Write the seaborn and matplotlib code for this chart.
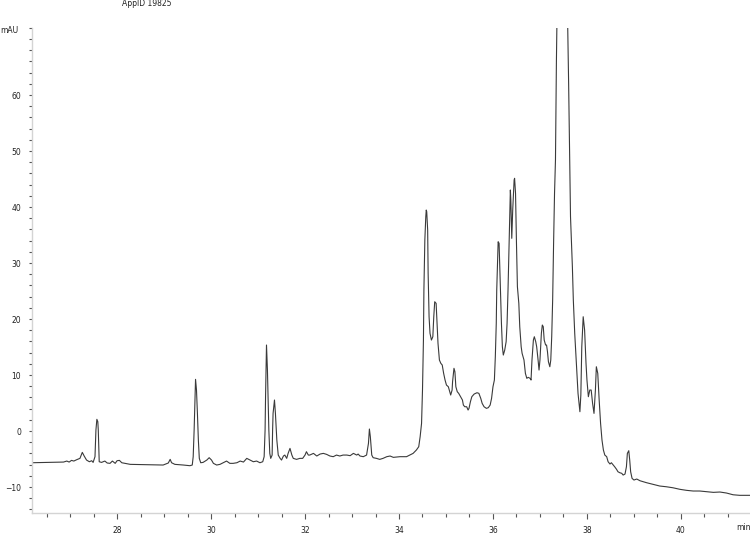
import numpy as np
import pandas as pd
import matplotlib
matplotlib.use("Agg")
import matplotlib.pyplot as plt
import seaborn as sns
from matplotlib.ticker import MultipleLocator

# chromatogram trace (retention time in min, signal in mAU)
time_min = [
    26.19, 26.86, 26.93, 26.98, 27.03, 27.08, 27.14, 27.21, 27.26, 27.30,
    27.35, 27.41, 27.46, 27.49, 27.53, 27.55, 27.57, 27.59, 27.60, 27.62,
    27.67, 27.74, 27.79, 27.85, 27.90, 27.96, 28.00, 28.05, 28.10, 28.17,
    28.28, 28.63, 28.98, 29.09, 29.13, 29.16, 29.23, 29.41, 29.55, 29.60,
    29.62, 29.64, 29.66, 29.67, 29.69, 29.71, 29.73, 29.75, 29.78, 29.83,
    29.91, 29.96, 30.01, 30.05, 30.12, 30.19, 30.26, 30.33, 30.40, 30.47,
    30.55, 30.62, 30.69, 30.76, 30.83, 30.90, 30.97, 31.04, 31.10, 31.13,
    31.15, 31.16, 31.18, 31.20, 31.23, 31.25, 31.27, 31.30, 31.31, 31.32,
    31.35, 31.37, 31.40, 31.43, 31.47, 31.50, 31.54, 31.57, 31.61, 31.64,
    31.68, 31.72, 31.75, 31.82, 31.89, 31.95, 32.00, 32.03, 32.07, 32.10,
    32.18, 32.25, 32.32, 32.39, 32.46, 32.53, 32.60, 32.67, 32.74, 32.81,
    32.89, 32.96, 33.03, 33.10, 33.13, 33.17, 33.24, 33.31, 33.35, 33.37,
    33.39, 33.42, 33.45, 33.52, 33.59, 33.66, 33.74, 33.81, 33.88, 34.02,
    34.16, 34.23, 34.30, 34.37, 34.42, 34.45, 34.48, 34.50, 34.52, 34.53,
    34.55, 34.57, 34.58, 34.59, 34.61, 34.62, 34.64, 34.66, 34.69, 34.72,
    34.74, 34.76, 34.79, 34.81, 34.83, 34.86, 34.89, 34.92, 34.95, 34.98,
    35.01, 35.05, 35.08, 35.10, 35.13, 35.14, 35.17, 35.19, 35.21, 35.24,
    35.27, 35.31, 35.35, 35.37, 35.40, 35.44, 35.47, 35.49, 35.52, 35.55,
    35.60, 35.66, 35.70, 35.74, 35.77, 35.81, 35.86, 35.90, 35.94, 35.97,
    36.00, 36.03, 36.05, 36.07, 36.08, 36.10, 36.11, 36.13, 36.15, 36.18,
    36.20, 36.22, 36.25, 36.28, 36.30, 36.32, 36.34, 36.37, 36.38, 36.40,
    36.42, 36.45, 36.46, 36.48, 36.50, 36.52, 36.55, 36.57, 36.60, 36.62,
    36.66, 36.69, 36.72, 36.75, 36.79, 36.81, 36.83, 36.86, 36.88, 36.91,
    36.93, 36.96, 36.98, 37.00, 37.03, 37.05, 37.07, 37.09, 37.12, 37.14,
    37.16, 37.18, 37.21, 37.23, 37.25, 37.27, 37.29, 37.31, 37.33, 37.35,
    37.38, 37.47, 37.56, 37.59, 37.61, 37.63, 37.65, 37.69, 37.71, 37.74,
    37.78, 37.81, 37.85, 37.87, 37.89, 37.92, 37.95, 37.98, 38.00, 38.03,
    38.06, 38.09, 38.12, 38.15, 38.18, 38.20, 38.23, 38.26, 38.29, 38.32,
    38.35, 38.38, 38.42, 38.45, 38.49, 38.52, 38.56, 38.59, 38.63, 38.66,
    38.70, 38.74, 38.77, 38.81, 38.84, 38.86, 38.89, 38.91, 38.93, 38.96,
    39.00, 39.06, 39.13, 39.27, 39.41, 39.55, 39.69, 39.83, 39.98, 40.12,
    40.26, 40.40, 40.55, 40.69, 40.83, 40.97, 41.11, 41.25, 41.47,
]
signal_mau = [
    -5.66, -5.54, -5.36, -5.54, -5.24, -5.36, -5.12, -4.88, -3.81, -4.46,
    -5.18, -5.48, -5.30, -5.60, -4.58, 0.18, 2.09, 1.67, 0.18, -5.48,
    -5.60, -5.36, -5.71, -5.77, -5.36, -5.77, -5.30, -5.24, -5.66, -5.77,
    -5.95, -6.01, -6.07, -5.71, -5.06, -5.66, -5.95, -6.07, -6.19, -6.07,
    -4.58, 0.18, 6.13, 9.23, 7.32, 3.15, -1.61, -4.88, -5.66, -5.60,
    -5.18, -4.76, -5.18, -5.77, -6.07, -5.95, -5.66, -5.36, -5.77, -5.77,
    -5.66, -5.36, -5.54, -4.88, -5.18, -5.48, -5.36, -5.66, -5.48, -4.58,
    0.18, 6.13, 15.36, 10.89, 0.18, -3.99, -4.88, -4.29, 0.18, 3.15,
    5.54, 3.15, -1.61, -4.29, -4.88, -5.18, -4.46, -4.29, -4.88, -3.99,
    -3.10, -4.29, -4.88, -5.06, -4.88, -4.88, -4.29, -3.69, -4.29, -4.29,
    -3.99, -4.46, -4.11, -3.99, -4.17, -4.46, -4.58, -4.29, -4.46, -4.29,
    -4.29, -4.40, -3.99, -4.29, -4.11, -4.46, -4.58, -4.29, -2.20, 0.36,
    -1.01, -4.29, -4.76, -4.88, -5.06, -4.88, -4.58, -4.46, -4.70, -4.58,
    -4.58, -4.29, -3.99, -3.39, -2.80, -1.01, 1.37, 7.32, 16.25, 25.18,
    34.11, 38.27, 39.46, 39.16, 35.89, 28.16, 20.41, 17.45, 16.25, 16.84,
    20.41, 23.09, 22.80, 19.23, 15.66, 12.68, 12.09, 11.79, 10.30, 9.11,
    8.21, 7.91, 7.02, 6.43, 7.32, 8.80, 11.20, 10.59, 7.91, 7.02,
    6.73, 6.13, 5.54, 4.64, 4.34, 4.34, 3.75, 4.05, 5.24, 6.13,
    6.61, 6.84, 6.73, 5.83, 4.94, 4.34, 4.05, 4.17, 4.64, 5.83,
    7.91, 9.11, 13.27, 19.23, 25.18, 31.13, 33.80, 33.52, 27.55, 19.23,
    15.05, 13.57, 14.46, 15.95, 19.23, 25.18, 32.32, 43.04, 41.25, 34.41,
    39.46, 44.82, 45.13, 42.45, 33.52, 25.77, 22.80, 18.63, 15.05, 13.87,
    12.68, 10.30, 9.41, 9.59, 9.41, 9.11, 12.68, 16.25, 16.84, 15.95,
    15.05, 12.68, 10.89, 12.68, 17.45, 18.93, 18.63, 16.25, 15.36, 15.36,
    14.16, 12.38, 11.48, 12.68, 16.84, 23.39, 33.52, 42.45, 48.39, 66.0,
    85.0, 110.0, 85.0, 72.5, 62.1, 50.2, 38.3, 29.3, 23.4, 17.4,
    11.5, 6.73, 3.45, 6.43, 15.05, 20.41, 18.04, 12.09, 9.11, 6.13,
    7.32, 7.32, 4.94, 3.15, 7.32, 11.48, 10.30, 5.54, 1.37, -1.61,
    -3.39, -4.29, -4.58, -5.48, -5.89, -5.66, -6.07, -6.38, -6.84, -7.27,
    -7.45, -7.55, -7.86, -7.68, -6.38, -3.99, -3.51, -5.18, -7.27, -8.45,
    -8.75, -8.57, -8.88, -9.23, -9.52, -9.82, -9.95, -10.13, -10.41, -10.59,
    -10.71, -10.71, -10.84, -10.95, -10.89, -11.07, -11.38, -11.48, -11.48,
]

x_major = [28, 30, 32, 34, 36, 38, 40]
y_major = [-10, 0, 10, 20, 30, 40, 50, 60]
title_text = "AppID 19825"
y_unit = "mAU"
x_unit = "min"

df = pd.DataFrame({"time": time_min, "signal": signal_mau})

sns.set_theme(style="ticks")
plt.rcParams["font.family"] = ["DejaVu Sans"]

fig = plt.figure(figsize=(7.5, 5.34), dpi=100)
ax = fig.add_axes([0.0427, 0.0397, 0.9573, 0.9082])

sns.lineplot(data=df, x="time", y="signal", sort=False, estimator=None,
             color="#3a3a3a", linewidth=0.8, ax=ax)

ax.set_xlim(26.19, 41.47)
ax.set_ylim(-14.6, 72.0)
ax.set_xticks(x_major)
ax.set_yticks(y_major)
ax.xaxis.set_minor_locator(MultipleLocator(0.5))
ax.yaxis.set_minor_locator(MultipleLocator(2))
ax.set_xlabel("")
ax.set_ylabel("")

for side in ["top", "right"]:
    ax.spines[side].set_visible(False)
for side in ["left", "bottom"]:
    ax.spines[side].set_color("#d4d4d4")
    ax.spines[side].set_linewidth(1.0)

ax.tick_params(axis="x", which="major", length=4.3, width=0.8, color="#555555",
               labelsize=5.5, labelcolor="#222222", pad=5)
ax.tick_params(axis="x", which="minor", length=3, width=0.8, color="#555555")
ax.tick_params(axis="y", which="major", length=2, width=0.8, color="#555555",
               labelsize=5.5, labelcolor="#222222", pad=6)
ax.tick_params(axis="y", which="minor", length=2, width=0.8, color="#555555")

fig.text(147 / 750, 1 - 4 / 534, title_text, ha="center", va="center",
         fontsize=5.5, color="#222222")
fig.text(0.0, 1 - 30.5 / 534, y_unit, ha="left", va="center",
         fontsize=5.5, color="#222222")
fig.text(736 / 750, 1 - 528 / 534, x_unit, ha="left", va="center",
         fontsize=5.5, color="#222222")

fig.savefig("out.png", dpi=100)
